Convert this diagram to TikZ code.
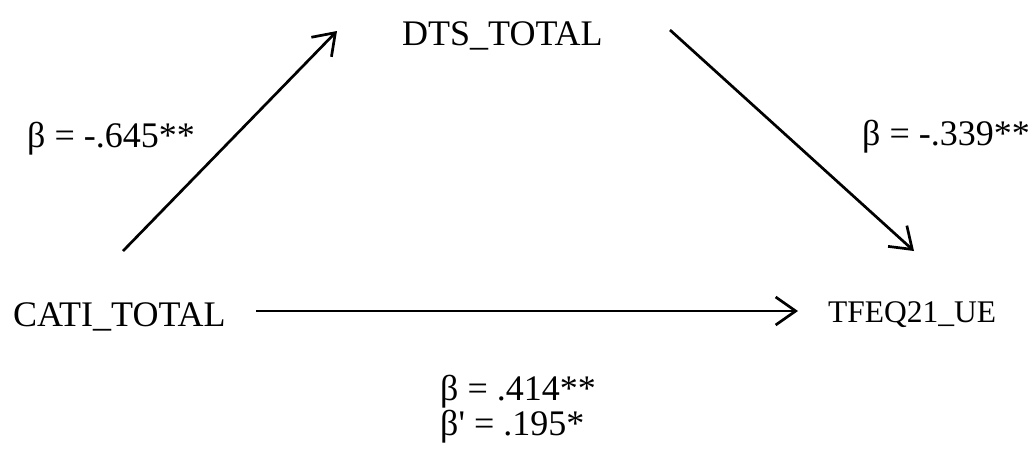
\documentclass[tikz,border=0pt]{standalone}
\usepackage{fontspec}
\setmainfont{Liberation Serif}
\usetikzlibrary{arrows.meta}
\begin{document}
\begin{tikzpicture}[x=1pt,y=1pt,
  var/.style={inner sep=0pt,anchor=base west,font=\fontsize{36}{40}\selectfont},
  varsm/.style={inner sep=0pt,anchor=base west,font=\fontsize{31.5}{36}\selectfont},
  lab/.style={inner sep=0pt,anchor=base west,font=\fontsize{36}{28}\selectfont},
  arr/.style={line width=2.7pt,-{Straight Barb[length=20pt,width=28pt,line width=2.7pt]}}]
\useasboundingbox (0,0) rectangle (1035,-459);
% variables
\node[var] (cati) at (13,-326) {CATI\_TOTAL};
\node[var] (dts) at (402,-45) {DTS\_TOTAL};
\node[varsm] (tfeq) at (828,-322) {TFEQ21\_UE};
% labels
\node[lab] (la) at (27,-147) {β = -.645**};
\node[lab] (lb) at (862,-145) {β = -.339**};
\node[lab,align=left] (lc) at (440,-435) {β = .414**\\β\textquotesingle\ = .195*};
% connector end points
\coordinate (a1s) at (123,-251);
\coordinate (a1e) at (337,-31);
\coordinate (a2s) at (670,-30);
\coordinate (a2e) at (914,-251);
\coordinate (a3s) at (256,-311);
\coordinate (a3e) at (798,-311);
\draw[arr] (a1s) -- (a1e);
\draw[arr] (a2s) -- (a2e);
\draw[arr] (a3s) -- (a3e);
\end{tikzpicture}
\end{document}
